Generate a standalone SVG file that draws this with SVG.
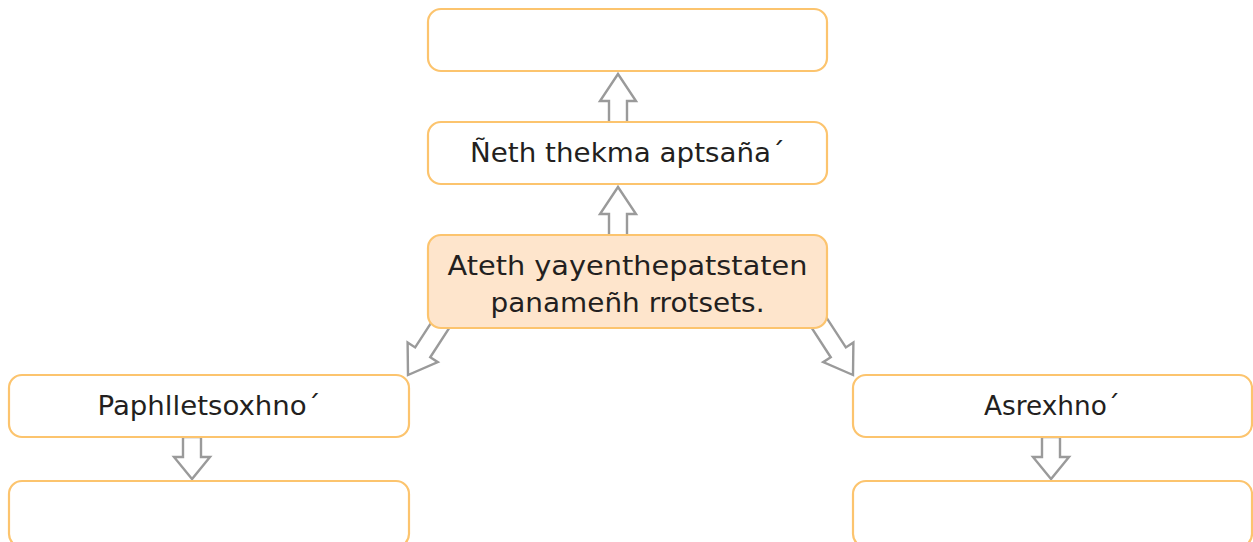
<svg xmlns="http://www.w3.org/2000/svg" width="1253" height="542" viewBox="0 0 1253 542">
<style>
.box{fill:#ffffff;stroke:#fcc46e;stroke-width:2.2}
.main{fill:#fee5cc;stroke:#fcc46e;stroke-width:2.2}
.arr{fill:#ffffff;stroke:#9a9a9a;stroke-width:2.4;stroke-linejoin:miter}
text{font-family:"DejaVu Sans","Liberation Sans",sans-serif;font-size:27px;fill:#231f20;text-anchor:middle}
</style>
<defs>
<polygon id="dn" points="0,0 -18,-27 -9,-27 -9,-70 9,-70 9,-27 18,-27"/>
</defs>
<g id="connectors">
<use href="#dn" class="arr" transform="translate(408,375) rotate(33)"/>
<use href="#dn" class="arr" transform="translate(853,375) rotate(-33)"/>
<polygon class="arr" points="618,74 600,101 609,101 609,123 627,123 627,101 636,101"/>
<polygon class="arr" points="618,187 600,214 609,214 609,236 627,236 627,214 636,214"/>
<polygon class="arr" points="192,479 174,457 183,457 183,437 201,437 201,457 210,457"/>
<polygon class="arr" points="1051,479 1033,457 1042,457 1042,437 1060,437 1060,457 1069,457"/>
</g>
<g id="n-top"><rect class="box" x="428" y="9" width="399" height="62" rx="13"/></g>
<g id="n-mid"><rect class="box" x="428" y="122" width="399" height="62" rx="13"/>
<text x="627.5" y="162" textLength="315" lengthAdjust="spacingAndGlyphs">Ñeth thekma aptsaña´</text></g>
<g id="n-main"><rect class="main" x="428" y="235" width="399" height="93" rx="13"/>
<text x="627.5" y="275" textLength="360" lengthAdjust="spacingAndGlyphs">Ateth yayenthepatstaten</text>
<text x="627.5" y="312" textLength="274" lengthAdjust="spacingAndGlyphs">panameñh rrotsets.</text></g>
<g id="n-left"><rect class="box" x="9" y="375" width="400" height="62" rx="13"/>
<text x="209" y="415" textLength="223" lengthAdjust="spacingAndGlyphs">Paphlletsoxhno´</text></g>
<g id="n-left2"><rect class="box" x="9" y="481" width="400" height="66" rx="13"/></g>
<g id="n-right"><rect class="box" x="853" y="375" width="399" height="62" rx="13"/>
<text x="1052" y="415" textLength="136" lengthAdjust="spacingAndGlyphs">Asrexhno´</text></g>
<g id="n-right2"><rect class="box" x="853" y="481" width="399" height="66" rx="13"/></g>
</svg>
